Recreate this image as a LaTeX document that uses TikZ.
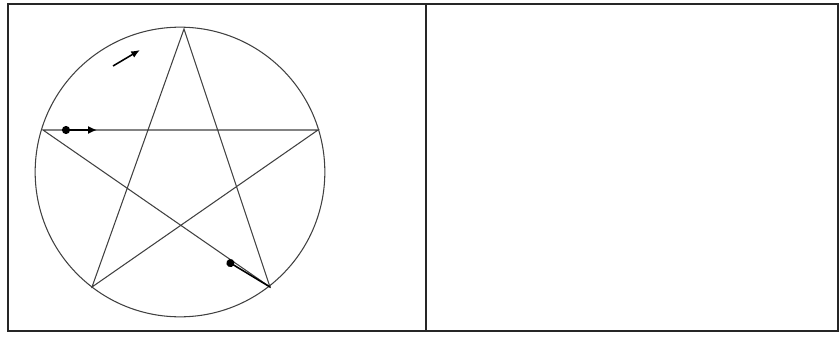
\documentclass[tikz,border=0pt]{standalone}
\usepackage{tikz}
\usetikzlibrary{arrows.meta}

\begin{document}
\begin{tikzpicture}[x=0.025cm,y=-0.025cm,
   frame/.style={draw=black!85,line width=1.8pt},
   ln/.style={draw=black!75,line width=0.75pt},
   mv/.style={draw=black,line width=1.4pt}]
  \useasboundingbox (0,0) rectangle (840,336);
  % panels
  \draw[frame] (8,4) rectangle (838,331);
  \coordinate (t1) at (426,4);
  \coordinate (b1) at (426,331);
  \draw[frame] (t1) -- (b1);
  % circle and star
  \coordinate (c) at (180,172);
  \draw[ln] (c) circle[radius=3.62cm];
  \coordinate (top) at (184,29);
  \coordinate (lft) at (43,130);
  \coordinate (rgt) at (318,130);
  \coordinate (bl) at (92,287);
  \coordinate (br) at (270,287);
  \draw[ln] (top) -- (bl) -- (rgt) -- (lft) -- (br) -- cycle;
  % motion marks
  \coordinate (a0) at (113,66);
  \coordinate (a1) at (140,50);
  \draw[mv,line width=1.1pt,-{Latex[length=2.2mm,width=1.8mm]}] (a0) -- (a1);
  \coordinate (h0) at (62,130);
  \coordinate (h1) at (97,130);
  \draw[mv,{Circle[length=2mm]}-{Latex[length=2.2mm,width=2mm]}] (h0) -- (h1);
  \coordinate (d0) at (227,261);
  \draw[mv,line width=1.1pt,line cap=round,{Circle[length=2mm]}-] (d0) -- (br);
\end{tikzpicture}
\end{document}
